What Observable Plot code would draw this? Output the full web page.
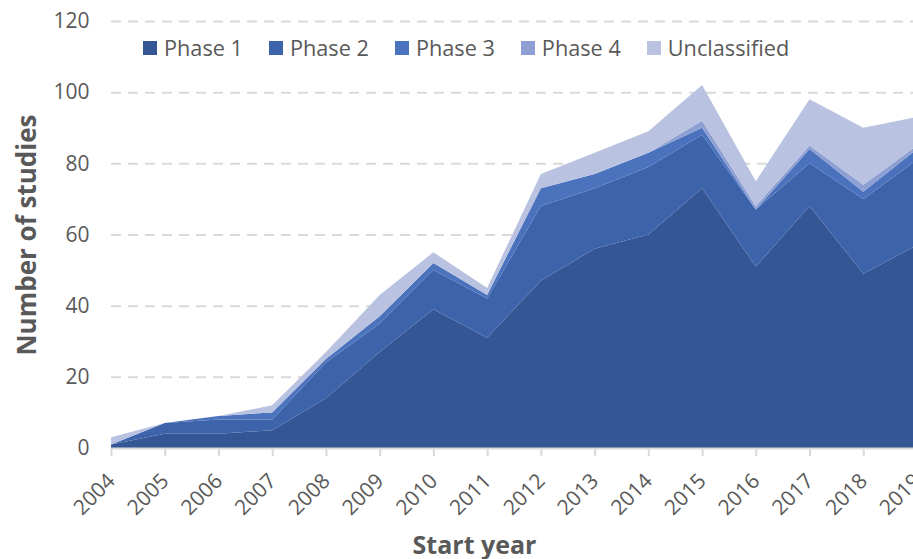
<!DOCTYPE html>
<html>
<head>
<meta charset="utf-8">
<script src="https://cdn.jsdelivr.net/npm/d3@7"></script>
<script src="https://cdn.jsdelivr.net/npm/@observablehq/plot@0.6"></script>
<style>
  html, body { margin: 0; padding: 0; background: #fff; overflow: hidden; }
  #wrap { position: relative; width: 913px; height: 559px; overflow: hidden; font-family: "Open Sans", sans-serif; }
  #chart svg { max-width: none !important; }
  #legend { position: absolute; left: 143px; top: 33px; display: flex; align-items: center; font-size: 21.7px; color: #595959; }
  #legend .item { display: flex; align-items: center; margin-right: 26px; }
  #legend .sw { width: 14px; height: 14px; margin-right: 7px; }
</style>
</head>
<body>
<div id="wrap"><div id="chart"></div><div id="legend"></div></div>
<script>
const years = [2004,2005,2006,2007,2008,2009,2010,2011,2012,2013,2014,2015,2016,2017,2018,2019];
const phase1 = [1,4,4,5,14,27,39,31,47,56,60,73,51,68,49,57];
const phase2 = [0,3,4,3,10,8,11,11,21,17,19,15,16,12,21,24];
const phase3 = [0,0,1,2,1,2,2,1,5,4,4,2,0,4,2,3];
const phase4 = [0,0,0,0,0,0,0,0,0,0,0,2,1,1,2,1];
const unclassified = [2,0,0,2,2,6,3,2,4,6,6,10,7,13,16,8];
const seriesNames = ["Phase 1","Phase 2","Phase 3","Phase 4","Unclassified"];
const seriesColors = ["#345694","#3d63ab","#4a72bd","#8d9fd3","#b9c3e1"];
const yTicks = [0,20,40,60,80,100,120];

const seriesValues = [phase1, phase2, phase3, phase4, unclassified];
const data = [];
seriesNames.forEach((name, i) => {
  years.forEach((y, j) => data.push({year: y, series: name, value: seriesValues[i][j]}));
});

const W = 930;
const chart = Plot.plot({
  width: W,
  height: 559,
  marginLeft: 111,
  marginRight: W - 917,
  marginTop: 21,
  marginBottom: 111,
  style: {fontFamily: "Open Sans, sans-serif", fontSize: "21px", color: "#595959", background: "#fff", maxWidth: "none"},
  x: {type: "linear", domain: [2004, 2019]},
  y: {domain: [0, 120]},
  color: {domain: seriesNames, range: seriesColors},
  marks: [
    Plot.ruleY(yTicks.filter(d => d > 0), {stroke: "#d9d9d9", strokeWidth: 2, strokeDasharray: "10,7"}),
    Plot.areaY(data, {x: "year", y: "value", fill: "series", order: seriesNames}),
    Plot.ruleY([0], {stroke: "#d9d9d9", strokeWidth: 2}),
    Plot.axisY({ticks: yTicks, tickSize: 0, tickPadding: 22, fontSize: 21, label: "Number of studies", labelAnchor: "center", labelArrow: "none", labelOffset: 94}),
    Plot.axisX({ticks: years, tickFormat: d => String(d), tickSize: 8, stroke: "#d9d9d9", strokeWidth: 2, tickRotate: -45, tickPadding: 21, fontSize: 21, label: null}),
    Plot.text(["Start year"], {frameAnchor: "bottom", dy: 105, text: d => d, fontSize: 25, fontWeight: "bold", fill: "#595959", dx: -40})
  ]
});
chart.querySelectorAll("g[aria-label='y-axis label'] text").forEach(t => { t.style.fontSize = "26px"; t.style.fontWeight = "bold"; });
document.getElementById("chart").appendChild(chart);

const legend = document.getElementById("legend");
seriesNames.forEach((name, i) => {
  const item = document.createElement("div");
  item.className = "item";
  const sw = document.createElement("div");
  sw.className = "sw";
  sw.style.background = seriesColors[i];
  const label = document.createElement("span");
  label.textContent = name;
  item.appendChild(sw);
  item.appendChild(label);
  legend.appendChild(item);
});
</script>
</body>
</html>
